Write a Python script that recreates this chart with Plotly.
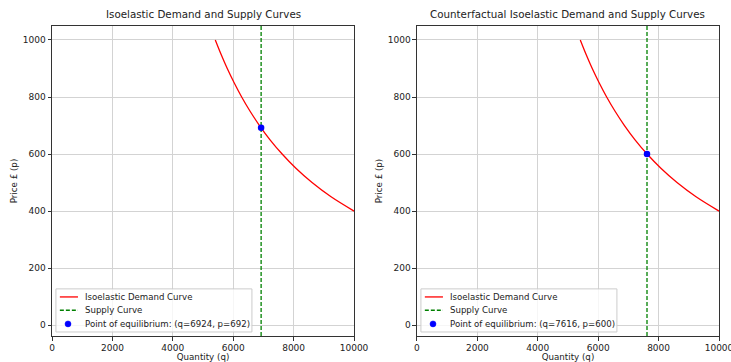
import plotly.graph_objects as go

# Demand curve readings (price, quantity) - same curve in both panels
demand_price = [1000, 950, 900, 850, 800, 750, 700, 650, 600, 550, 500, 450, 400]
demand_qty = [5407, 5597, 5803, 6031, 6280, 6559, 6870, 7220, 7620, 8076, 8610, 9240, 10000]

# Equilibria / supply
eq_q_left, eq_p_left = 6924, 692
eq_q_right, eq_p_right = 7616, 600

titles = ["Isoelastic Demand and Supply Curves",
          "Counterfactual Isoelastic Demand and Supply Curves"]
x_ticks = [0, 2000, 4000, 6000, 8000, 10000]
y_ticks = [0, 200, 400, 600, 800, 1000]
y_range = [-38, 1049]
x_range = [0, 10000]

FONT = "DejaVu Sans"
RED, GREEN, BLUE = "#ff0000", "#008000", "#0000ff"
fig = go.Figure()

panels = [
    ("x", "y", eq_q_left, eq_p_left),
    ("x2", "y2", eq_q_right, eq_p_right),
]
shapes = []
annotations = []
for xa, ya, q, p in panels:
    fig.add_trace(go.Scatter(x=demand_qty, y=demand_price, mode="lines",
                             line=dict(color=RED, width=1.3, shape="spline"),
                             name="Isoelastic Demand Curve", xaxis=xa, yaxis=ya, showlegend=False))
    fig.add_trace(go.Scatter(x=[q, q], y=y_range, mode="lines",
                             line=dict(color=GREEN, width=1.3, dash="4px,2px"),
                             name="Supply Curve", xaxis=xa, yaxis=ya, showlegend=False))
    fig.add_trace(go.Scatter(x=[q], y=[p], mode="markers",
                             marker=dict(color=BLUE, size=6.5),
                             name=f"Point of equilibrium: (q={q}, p={p})",
                             xaxis=xa, yaxis=ya, showlegend=False))

    # legend box (drawn like matplotlib's)
    xr, yr = f"{xa} domain", f"{ya} domain"
    shapes.append(dict(type="rect", xref=xr, yref=yr, x0=0.013, x1=0.662, y0=0.013, y1=0.152,
                       line=dict(color="#cccccc", width=1), fillcolor="rgba(255,255,255,0.8)",
                       layer="above"))
    rows = [0.126, 0.083, 0.039]
    labels = ["Isoelastic Demand Curve", "Supply Curve",
              f"Point of equilibrium: (q={q}, p={p})"]
    shapes.append(dict(type="line", xref=xr, yref=yr, x0=0.026, x1=0.086, y0=rows[0], y1=rows[0],
                       line=dict(color=RED, width=1.3), layer="above"))
    shapes.append(dict(type="line", xref=xr, yref=yr, x0=0.026, x1=0.086, y0=rows[1], y1=rows[1],
                       line=dict(color=GREEN, width=1.3, dash="4px,2px"), layer="above"))
    shapes.append(dict(type="circle", xref=xr, yref=yr, xsizemode="pixel", ysizemode="pixel",
                       xanchor=0.053, yanchor=rows[2], x0=-3, x1=3, y0=-3, y1=3,
                       line=dict(color=BLUE, width=0.5), fillcolor=BLUE, layer="above"))
    for r, lab in zip(rows, labels):
        annotations.append(dict(text=lab, xref=xr, yref=yr, x=0.103, y=r, xanchor="left",
                                yanchor="middle", showarrow=False,
                                font=dict(size=8.6, family=FONT, color="#222")))

axis_common = dict(showgrid=True, gridcolor="#d3d3d3", gridwidth=0.8,
                   showline=True, linecolor="#333", linewidth=1, mirror=True,
                   ticks="outside", ticklen=3.5, tickcolor="#333", tickformat="d",
                   tickfont=dict(size=9, color="#222", family=FONT), zeroline=False,
                   automargin=False, ticklabeloverflow="allow")

for i, t in enumerate(titles):
    annotations.append(dict(text=t, x=[0.2264, 0.7736][i], y=1, xref="paper", yref="paper",
                            xanchor="center", yanchor="bottom", yshift=4, showarrow=False,
                            font=dict(size=10.3, family=FONT, color="#222")))

fig.update_layout(
    width=731, height=362,
    margin=dict(l=52, r=12, t=26, b=26),
    plot_bgcolor="white", paper_bgcolor="white",
    font=dict(family=FONT, color="#222"),
    xaxis=dict(domain=[0, 0.4528], range=x_range, tickvals=x_ticks, anchor="y",
               title=dict(text="Quantity (q)", font=dict(size=8.7), standoff=5), **axis_common),
    yaxis=dict(domain=[0, 1], range=y_range, tickvals=y_ticks, anchor="x",
               title=dict(text="Price £ (p)", font=dict(size=8.7), standoff=3), **axis_common),
    xaxis2=dict(domain=[0.5472, 1], range=x_range, tickvals=x_ticks, anchor="y2",
                title=dict(text="Quantity (q)", font=dict(size=8.7), standoff=5), **axis_common),
    yaxis2=dict(domain=[0, 1], range=y_range, tickvals=y_ticks, anchor="x2",
                title=dict(text="Price £ (p)", font=dict(size=8.7), standoff=3), **axis_common),
    showlegend=False,
    shapes=shapes,
    annotations=annotations,
)

# remove the browser's default body margin so the figure fills the window exactly
fig.write_html(
    "out.html",
    config={"displayModeBar": False},
    post_script=("document.body.style.margin='0';"
                 "document.documentElement.style.overflow='hidden';"
                 "document.body.style.overflow='hidden';"),
)
